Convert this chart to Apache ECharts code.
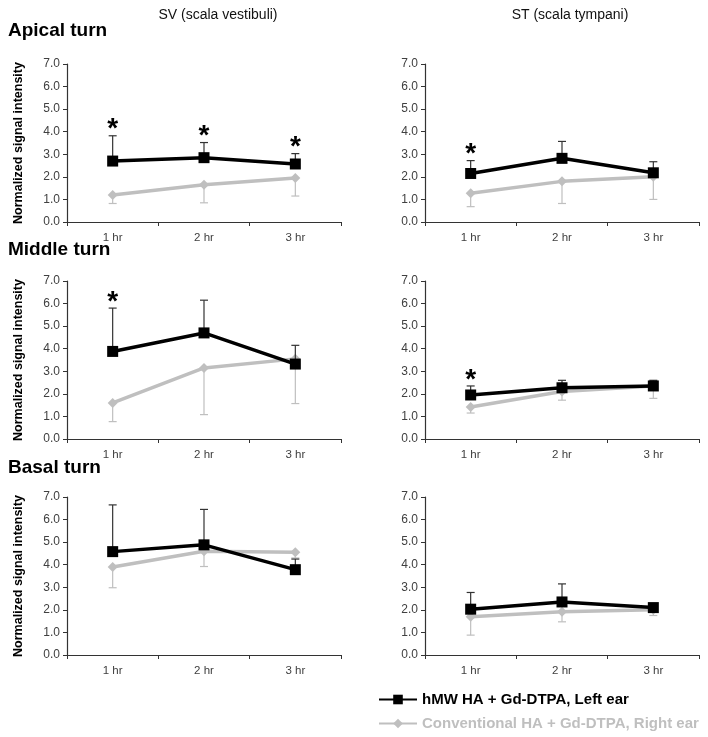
<!DOCTYPE html>
<html><head><meta charset="utf-8">
<script src="https://cdn.jsdelivr.net/npm/echarts@6/dist/echarts.min.js"></script>
<style>html,body{margin:0;padding:0;background:#fff}#c{width:708px;height:737px}</style>
</head><body><div id="c"></div>
<script>
const categories = ['1 hr', '2 hr', '3 hr'];
const yTickValues = [0, 1, 2, 3, 4, 5, 6, 7];
const hmwName = 'hMW HA + Gd-DTPA, Left ear';
const convName = 'Conventional HA + Gd-DTPA, Right ear';
const columnTitles = ['SV (scala vestibuli)', 'ST (scala tympani)'];
const rowTitles = ['Apical turn', 'Middle turn', 'Basal turn'];

// Apical SV
const apicalSV_hmw = [2.70, 2.85, 2.57];
const apicalSV_hmwUpper = [3.82, 3.52, 3.03];
const apicalSV_conv = [1.20, 1.65, 1.95];
const apicalSV_convLower = [0.82, 0.85, 1.15];
const apicalSV_star = [1, 1, 1];
// Apical ST
const apicalST_hmw = [2.15, 2.82, 2.18];
const apicalST_hmwUpper = [2.72, 3.57, 2.67];
const apicalST_conv = [1.27, 1.80, 2.00];
const apicalST_convLower = [0.68, 0.82, 1.00];
const apicalST_star = [1, 0, 0];
// Middle SV
const middleSV_hmw = [3.88, 4.70, 3.32];
const middleSV_hmwUpper = [5.80, 6.15, 4.15];
const middleSV_conv = [1.60, 3.15, 3.55];
const middleSV_convLower = [0.77, 1.08, 1.57];
const middleSV_star = [1, 0, 0];
// Middle ST
const middleST_hmw = [1.95, 2.27, 2.35];
const middleST_hmwUpper = [2.35, 2.60, 2.60];
const middleST_conv = [1.42, 2.10, 2.35];
const middleST_convLower = [1.15, 1.72, 1.80];
const middleST_star = [1, 0, 0];
// Basal SV
const basalSV_hmw = [4.58, 4.88, 3.78];
const basalSV_hmwUpper = [6.65, 6.45, 4.25];
const basalSV_conv = [3.90, 4.60, 4.55];
const basalSV_convLower = [2.98, 3.92, 4.30];
const basalSV_star = [0, 0, 0];
// Basal ST
const basalST_hmw = [2.03, 2.35, 2.10];
const basalST_hmwUpper = [2.77, 3.15, 2.20];
const basalST_conv = [1.70, 1.92, 2.00];
const basalST_convLower = [0.88, 1.47, 1.75];
const basalST_star = [0, 0, 0];

const panels = [
  {hmw: apicalSV_hmw, hu: apicalSV_hmwUpper, conv: apicalSV_conv, cl: apicalSV_convLower, star: apicalSV_star},
  {hmw: apicalST_hmw, hu: apicalST_hmwUpper, conv: apicalST_conv, cl: apicalST_convLower, star: apicalST_star},
  {hmw: middleSV_hmw, hu: middleSV_hmwUpper, conv: middleSV_conv, cl: middleSV_convLower, star: middleSV_star},
  {hmw: middleST_hmw, hu: middleST_hmwUpper, conv: middleST_conv, cl: middleST_convLower, star: middleST_star},
  {hmw: basalSV_hmw, hu: basalSV_hmwUpper, conv: basalSV_conv, cl: basalSV_convLower, star: basalSV_star},
  {hmw: basalST_hmw, hu: basalST_hmwUpper, conv: basalST_conv, cl: basalST_convLower, star: basalST_star}
];

const BLACK = '#000000', GREY = '#bfbfbf';
const FONT = '"Liberation Sans", Arial, sans-serif';
const gridTops = [64, 281, 497];
const gridH = 158;
const gridLefts = [67, 425];
const gridW = 274;

const grids = [], xAxes = [], yAxes = [], series = [];

function errRender(color) {
  return function (params, api) {
    const p0 = api.coord([api.value(0), api.value(1)]);
    const p1 = api.coord([api.value(0), api.value(2)]);
    const hw = 4;
    return {type: 'group', children: [
      {type: 'line', shape: {x1: p0[0], y1: p0[1], x2: p1[0], y2: p1[1]}, style: {stroke: color, lineWidth: 1.2}},
      {type: 'line', shape: {x1: p1[0] - hw, y1: p1[1], x2: p1[0] + hw, y2: p1[1]}, style: {stroke: color, lineWidth: 1.2}}
    ]};
  };
}
function starRender(params, api) {
  const p = api.coord([api.value(0), api.value(1)]);
  return {type: 'text', x: p[0], y: p[1] + 8, style: {text: '*', fill: '#000', font: 'bold 28px ' + FONT, textAlign: 'center', textVerticalAlign: 'bottom'}};
}

panels.forEach((pn, i) => {
  const row = Math.floor(i / 2), col = i % 2;
  grids.push({left: gridLefts[col], top: gridTops[row], width: gridW, height: gridH});
  xAxes.push({
    type: 'category', gridIndex: i, data: categories, boundaryGap: true,
    axisLine: {lineStyle: {color: '#333', width: 1.2}},
    axisTick: {show: true, length: 4, alignWithLabel: false, lineStyle: {color: '#333'}},
    axisLabel: {color: '#404040', fontSize: 11.5, fontFamily: FONT, margin: 10}
  });
  yAxes.push({
    type: 'value', gridIndex: i, min: yTickValues[0], max: yTickValues[yTickValues.length - 1], interval: 1,
    splitLine: {show: false},
    axisLine: {show: true, lineStyle: {color: '#333', width: 1.2}},
    axisTick: {show: true, length: 4, lineStyle: {color: '#333'}},
    axisLabel: {color: '#404040', fontSize: 12, fontFamily: FONT, margin: 7, formatter: v => v.toFixed(1)},
    name: col === 0 ? 'Normalized signal intensity' : '',
    nameLocation: 'middle', nameRotate: 90, nameGap: 42,
    nameTextStyle: {fontWeight: 'bold', fontSize: 12.5, color: '#000', fontFamily: FONT}
  });
  series.push({
    type: 'custom', xAxisIndex: i, yAxisIndex: i, renderItem: errRender(GREY), z: 1,
    data: pn.conv.map((v, k) => [k, v, pn.cl[k]])
  });
  series.push({
    type: 'line', name: convName, xAxisIndex: i, yAxisIndex: i, data: pn.conv, z: 2,
    symbol: 'diamond', symbolSize: 10, lineStyle: {color: GREY, width: 3.5},
    itemStyle: {color: GREY}, animation: false
  });
  series.push({
    type: 'custom', xAxisIndex: i, yAxisIndex: i, renderItem: errRender('#333'), z: 3,
    data: pn.hmw.map((v, k) => [k, v, pn.hu[k]])
  });
  series.push({
    type: 'line', name: hmwName, xAxisIndex: i, yAxisIndex: i, data: pn.hmw, z: 4,
    symbol: 'rect', symbolSize: 11, lineStyle: {color: BLACK, width: 3.5},
    itemStyle: {color: BLACK}, animation: false
  });
  const starData = [];
  pn.star.forEach((s, k) => { if (s) starData.push([k, pn.hu[k]]); });
  series.push({
    type: 'custom', xAxisIndex: i, yAxisIndex: i, renderItem: starRender, z: 5, data: starData
  });
});

const titles = [
  {text: columnTitles[0], left: 213, top: 3, textAlign: 'center', textStyle: {fontSize: 14, fontWeight: 'normal', color: '#111', fontFamily: FONT}},
  {text: columnTitles[1], left: 565, top: 3, textAlign: 'center', textStyle: {fontSize: 14, fontWeight: 'normal', color: '#111', fontFamily: FONT}},
  {text: rowTitles[0], left: 3, top: 16, textStyle: {fontSize: 19, fontWeight: 'bold', color: '#000', fontFamily: FONT}},
  {text: rowTitles[1], left: 3, top: 235, textStyle: {fontSize: 19, fontWeight: 'bold', color: '#000', fontFamily: FONT}},
  {text: rowTitles[2], left: 3, top: 453, textStyle: {fontSize: 19, fontWeight: 'bold', color: '#000', fontFamily: FONT}}
];

const legendCommon = {
  orient: 'horizontal', left: 378, itemWidth: 38, itemHeight: 12, selectedMode: false, padding: 0,
  textStyle: {fontSize: 15, fontWeight: 'bold', fontFamily: FONT}
};

const chart = echarts.init(document.getElementById('c'), null, {renderer: 'canvas'});
chart.setOption({
  animation: false,
  backgroundColor: '#fff',
  title: titles,
  grid: grids, xAxis: xAxes, yAxis: yAxes, series: series,
  legend: [
    Object.assign({}, legendCommon, {top: 692, data: [{name: hmwName, textStyle: {color: '#000'}}]}),
    Object.assign({}, legendCommon, {top: 716, data: [{name: convName, textStyle: {color: GREY}}]})
  ]
});
</script></body></html>
